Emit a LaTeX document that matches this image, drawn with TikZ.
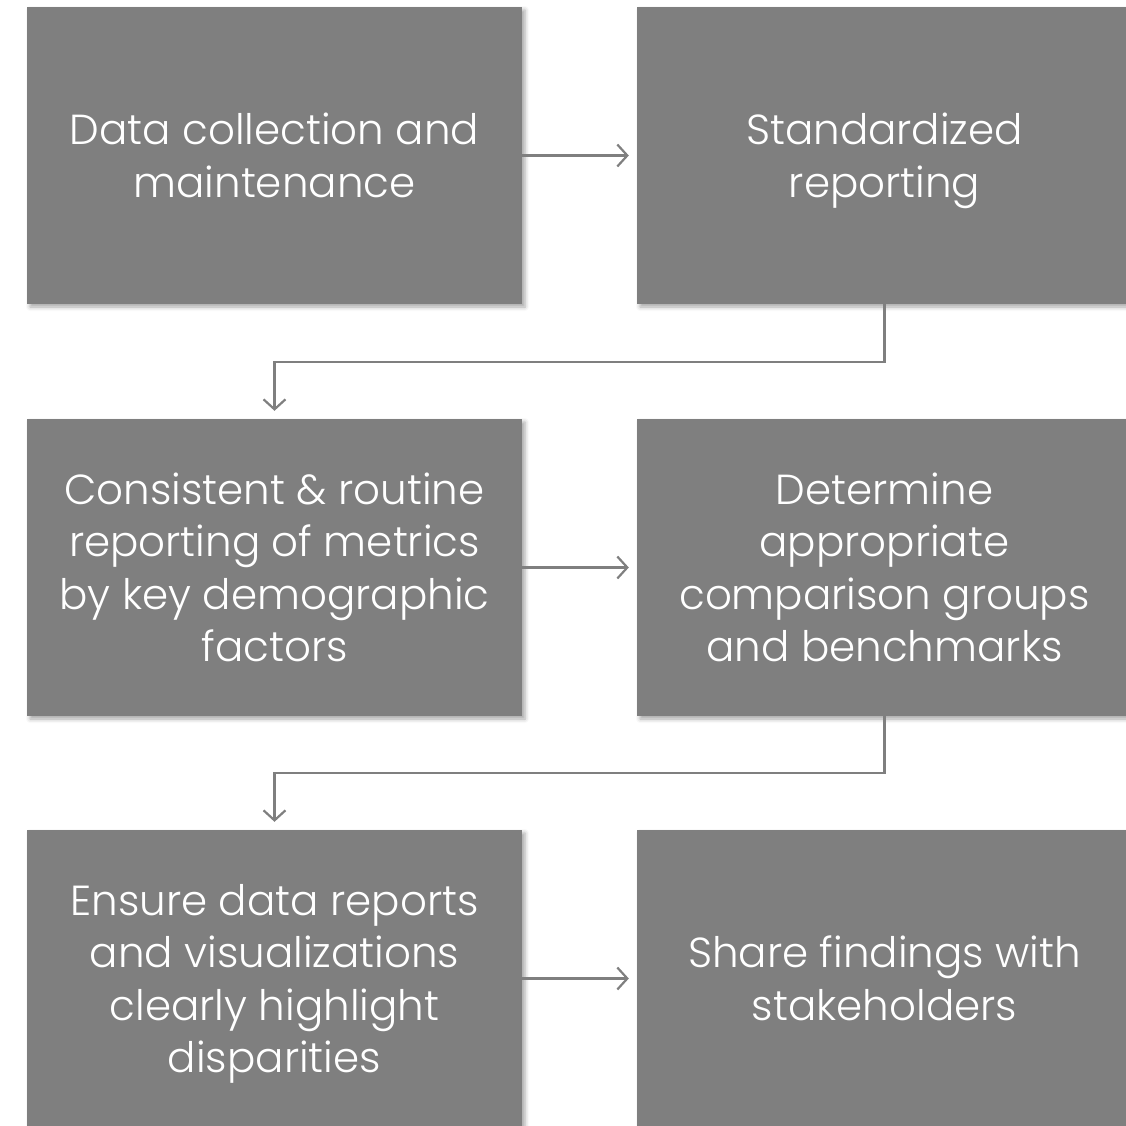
\documentclass[tikz,border=0pt]{standalone}
\usepackage{fontspec}
\setmainfont{Poppins}[UprightFont=* Light]
\usetikzlibrary{arrows.meta,shadows.blur,calc}
\newcommand{\topgap}{\rule{0pt}{46.5pt}}
\begin{document}
\begin{tikzpicture}[x=1pt,y=1pt,
  box/.style={fill=boxgray, minimum width=495pt, minimum height=297pt, inner sep=0pt,
    text=white, align=center, font=\fontsize{42}{52.5}\selectfont,
    execute at end node=\strut,
    blur shadow={shadow xshift=3pt, shadow yshift=-3pt, shadow blur radius=4pt, shadow opacity=35}},
  conn/.style={draw=linegray, line width=2.2pt, -{Straight Barb[length=10pt,width=22pt,line width=2.2pt]}, shorten >=8pt}
]
\definecolor{boxgray}{RGB}{127,127,127}
\definecolor{linegray}{RGB}{127,127,127}
\useasboundingbox (0,0) rectangle (1125,-1126);
\node[box] (a) at (274.5,-155.5) {\topgap Data collection and\\maintenance};
\node[box] (b) at (884.5,-155.5) {\topgap Standardized\\reporting};
\node[box] (c) at (274.5,-567.5) {\topgap Consistent \& routine\\reporting of metrics\\by key demographic\\factors};
\node[box] (d) at (884.5,-567.5) {\topgap Determine\\appropriate\\comparison groups\\and benchmarks};
\node[box] (e) at (274.5,-978.5) {\topgap Ensure data reports\\and visualizations\\clearly highlight\\disparities};
\node[box] (f) at (884.5,-978.5) {\topgap Share findings with\\stakeholders};
\draw[conn] (a.east) -- (b.west);
\draw[conn] (c.east) -- (d.west);
\draw[conn] (e.east) -- (f.west);
\draw[conn] (b.south) -- ++(0,-58) -| (c.north);
\draw[conn] (d.south) -- ++(0,-57) -| (e.north);
\end{tikzpicture}
\end{document}
